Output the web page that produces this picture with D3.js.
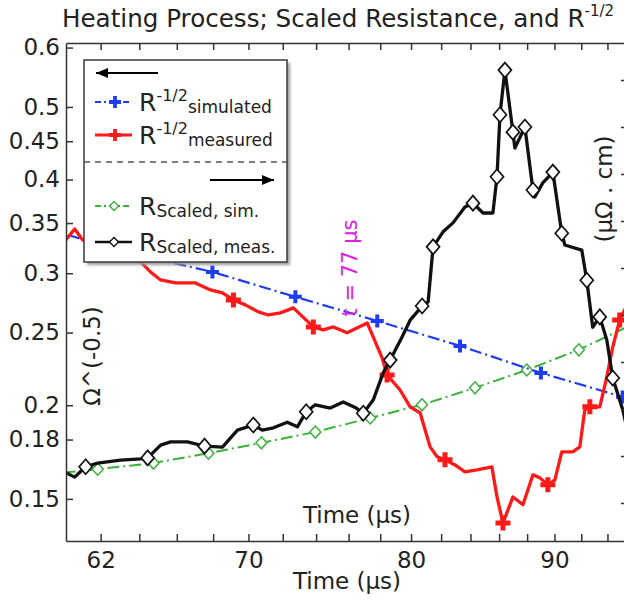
<!DOCTYPE html>
<html><head><meta charset="utf-8">
<script src="https://cdn.jsdelivr.net/npm/d3@7"></script>
<style>body{margin:0;background:#fff}svg{display:block}</style>
</head><body><svg id="c" width="624" height="603"></svg>
<script>
// ---------------- data ----------------
const titleMain = "Heating Process; Scaled Resistance, and R";
const titleSup = "-1/2";
const xTicks = [62,64,66,68,70,72,74,76,78,80,82,84,86,88,90,92,94];
const xTickLabels = [62,70,80,90];
const yLeftTicks = [0.15,0.18,0.2,0.25,0.3,0.35,0.4,0.45,0.5,0.6];
const yRightTicks = [100,110,120,130,140,150,160,170,180,190];

// R^-1/2 simulated (blue, left axis)
const simT = [59.32,63.49,67.96,72.75,77.81,83.28,89.0,95.18,101.5];
const simR = [0.3438,0.3193,0.3012,0.2790,0.2591,0.2400,0.2209,0.2052,0.190];

// R^-1/2 measured (red, left axis)
const measT = [59.90,60.25,60.69,61.09,62.00,63.02,64.07,64.59,65.13,65.93,67.02,67.85,68.52,69.14,69.82,70.57,71.15,71.86,72.63,73.83,74.43,75.05,75.91,77.17,77.55,78.12,78.44,79.28,79.94,80.60,81.26,81.73,82.26,82.94,83.62,84.45,85.49,85.85,86.27,86.98,87.70,88.42,88.93,89.51,90.03,90.54,91.36,91.89,92.27,92.65,93.41,93.95,94.41,94.95,95.73];
const measR = [0.3272,0.3323,0.3437,0.3323,0.3242,0.3203,0.3106,0.3012,0.2939,0.2912,0.2912,0.2850,0.2824,0.2764,0.2722,0.2664,0.2639,0.2656,0.2697,0.2544,0.2521,0.2544,0.2498,0.2575,0.2467,0.2313,0.2195,0.2096,0.1990,0.1953,0.1760,0.1707,0.1691,0.1665,0.1630,0.1640,0.1655,0.1509,0.1393,0.1509,0.1473,0.1615,0.1600,0.1566,0.1590,0.1733,0.1733,0.1760,0.1972,0.1990,0.1990,0.2182,0.2392,0.2599,0.2764];
const measMarks = [13,19,26,32,38,43,49,53];

// R scaled, simulated (green, right axis, µΩ·cm)
const scSimT = [59.07,61.85,64.75,67.74,70.75,73.95,77.36,80.72,84.31,87.98,91.82,95.88];
const scSimV = [106.0,107.2,108.5,110.6,112.8,115.1,118.1,120.9,124.5,128.3,132.6,137.9];

// R scaled, measured (black, right axis, µΩ·cm)
const scMeasT = [60.00,60.69,61.24,61.85,63.02,64.07,64.44,65.13,65.66,66.58,67.52,68.52,69.37,70.28,70.80,71.45,72.27,72.87,73.40,73.95,74.86,75.67,76.48,76.92,77.55,78.19,78.64,79.41,79.94,80.73,81.13,81.46,82.13,82.80,83.62,84.17,84.87,85.56,85.85,86.06,86.41,86.98,87.12,87.84,88.42,88.56,89.14,89.88,90.54,90.77,92.04,92.42,92.87,93.41,93.95,94.41,95.19,95.73];
const scMeasV = [107.0,105.5,107.7,108.5,109.1,109.4,109.6,112.3,113.0,113.0,112.1,111.9,115.5,116.6,115.5,116.0,117.2,116.2,119.4,120.9,120.2,121.5,120.2,119.1,121.9,127.7,130.4,135.3,138.9,141.9,142.8,154.5,157.7,159.6,163.0,163.8,161.7,161.7,169.4,182.6,192.1,178.9,175.5,180.0,166.6,165.1,168.1,170.4,157.4,154.9,153.8,147.4,137.4,139.6,134.7,126.6,119.8,113.4];
const scMeasMarks = [2,6,10,13,18,23,26,29,31,35,38,39,40,41,43,44,47,48,51,53,55];

// ---------------- layout ----------------
const L = 66, R = 628, T = 43, B = 541;
const FONT = "DejaVu Sans, Verdana, sans-serif";
const svg = d3.select("#c").style("font-family", FONT);

const x = d3.scaleLog().domain([60.26, 95.6]).range([L, R]);
const yL = d3.scaleLog().domain([0.1318, 0.6085]).range([B, T]);
const yR = d3.scaleLinear().domain([91.915, 197.87]).range([B, T]);

svg.append("defs").append("clipPath").attr("id","clip")
  .append("rect").attr("x",L).attr("y",T).attr("width",R-L).attr("height",B-T);
const defs = svg.select("defs");
const f = defs.append("filter").attr("id","blur").attr("x","-10%").attr("y","-10%").attr("width","120%").attr("height","120%");
f.append("feGaussianBlur").attr("stdDeviation",1.5);

// title
const tt = svg.append("text").attr("x",62).attr("y",27).attr("font-size",24.6).attr("fill","#222");
tt.append("tspan").text(titleMain);
tt.append("tspan").attr("dy",-11).attr("font-size",15).text(titleSup);

// plot group
const g = svg.append("g").attr("clip-path","url(#clip)");

const lineL = d3.line().x((d)=>x(d[0])).y((d)=>yL(d[1]));
const lineR = d3.line().x((d)=>x(d[0])).y((d)=>yR(d[1]));

const simPts = simT.map((t,i)=>[t,simR[i]]);
const measPts = measT.map((t,i)=>[t,measR[i]]);
const scSimPts = scSimT.map((t,i)=>[t,scSimV[i]]);
const scMeasPts = scMeasT.map((t,i)=>[t,scMeasV[i]]);

const BLUE="#1e3cf0", RED="#ff1a1a", GREEN="#3cb03c", BLACK="#111";
const dashdot = "12,4,2,4";

function plus(sel, cx, cy, s, w, col){
  sel.append("path").attr("d",`M${cx-s},${cy}H${cx+s}M${cx},${cy-s}V${cy+s}`)
    .attr("stroke",col).attr("stroke-width",w).attr("fill","none");
}
function diamond(sel, cx, cy, w, h, col, sw){
  sel.append("path").attr("d",`M${cx},${cy-h}L${cx+w},${cy}L${cx},${cy+h}L${cx-w},${cy}Z`)
    .attr("stroke",col).attr("stroke-width",sw).attr("fill","#fff");
}

// green simulated scaled
g.append("path").attr("d",lineR(scSimPts)).attr("fill","none").attr("stroke",GREEN)
  .attr("stroke-width",2).attr("stroke-dasharray",dashdot);
scSimPts.forEach(p=>diamond(g, x(p[0]), yR(p[1]), 5.5, 6, GREEN, 1.5));

// blue simulated
g.append("path").attr("d",lineL(simPts)).attr("fill","none").attr("stroke",BLUE)
  .attr("stroke-width",2.2).attr("stroke-dasharray",dashdot);
simPts.forEach(p=>plus(g, x(p[0]), yL(p[1]), 6.5, 4, BLUE));

// red measured
g.append("path").attr("d",lineL(measPts)).attr("fill","none").attr("stroke",RED)
  .attr("stroke-width",3.3).attr("stroke-linejoin","round");
measMarks.forEach(i=>plus(g, x(measPts[i][0]), yL(measPts[i][1]), 7.5, 5, RED));

// black measured scaled
g.append("path").attr("d",lineR(scMeasPts)).attr("fill","none").attr("stroke",BLACK)
  .attr("stroke-width",3.3).attr("stroke-linejoin","round");
scMeasMarks.forEach(i=>diamond(g, x(scMeasPts[i][0]), yR(scMeasPts[i][1]), 6.5, 7.5, BLACK, 1.7));

// magenta annotation
svg.append("text").attr("transform",`translate(357,268) rotate(-90)`).attr("text-anchor","middle")
  .attr("font-size",21).attr("fill","#e020e0").text("t = 77 µs");

// inner labels from overlaid figure
svg.append("text").attr("x",357).attr("y",523).attr("text-anchor","middle").attr("font-size",23)
  .attr("fill","#222").text("Time (µs)");
svg.append("text").attr("transform",`translate(100,356) rotate(-90)`).attr("text-anchor","middle")
  .attr("font-size",23).attr("fill","#222").text("Ω^(-0.5)");
svg.append("text").attr("transform",`translate(612,189) rotate(-90)`).attr("text-anchor","middle")
  .attr("font-size",23).attr("fill","#222").text("(µΩ . cm)");

// axes
function styleAxis(a){
  a.selectAll("path,line").attr("stroke","#333").attr("stroke-width",1.5);
  a.selectAll("text").attr("fill","#222").attr("font-family",FONT);
}
const ax = svg.append("g").attr("transform",`translate(0,${B})`)
  .call(d3.axisBottom(x).tickValues(xTicks).tickSizeInner(-7).tickSizeOuter(0).tickPadding(11)
    .tickFormat(d=>xTickLabels.includes(d)?String(d):""));
ax.attr("font-size",23); styleAxis(ax);
const axT = svg.append("g").attr("transform",`translate(0,${T})`)
  .call(d3.axisTop(x).tickValues(xTicks).tickSizeInner(-7).tickSizeOuter(0).tickFormat(""));
styleAxis(axT);
const ay = svg.append("g").attr("transform",`translate(${L},0)`)
  .call(d3.axisLeft(yL).tickValues(yLeftTicks).tickSizeInner(-7).tickSizeOuter(0).tickPadding(6)
    .tickFormat(d=>String(d)));
ay.attr("font-size",23); styleAxis(ay);
const ayR = svg.append("g").attr("transform",`translate(${R},0)`)
  .call(d3.axisRight(yR).tickValues(yRightTicks).tickSizeInner(-7).tickSizeOuter(0).tickFormat(""));
styleAxis(ayR);

svg.append("text").attr("x",347).attr("y",589).attr("text-anchor","middle").attr("font-size",23)
  .attr("fill","#222").text("Time (µs)");

// legend
const lg = svg.append("g");
const LX=84, LY=60, LW=203, LH=202;
lg.append("rect").attr("x",LX+3).attr("y",LY+3).attr("width",LW).attr("height",LH).attr("fill","#999").attr("filter","url(#blur)");
lg.append("rect").attr("x",LX).attr("y",LY).attr("width",LW).attr("height",LH).attr("fill","#fff").attr("stroke","#444").attr("stroke-width",1.6);
function arrow(x1,x2,y,dir){
  lg.append("line").attr("x1",x1).attr("x2",x2).attr("y1",y).attr("y2",y).attr("stroke","#000").attr("stroke-width",2);
  const tip = dir<0?x1:x2;
  lg.append("path").attr("d",`M${tip},${y}L${tip-dir*12},${y-5}L${tip-dir*12},${y+5}Z`).attr("fill","#000");
}
arrow(96,158,73,-1);
arrow(210,274,180,1);
lg.append("line").attr("x1",LX).attr("x2",LX+LW).attr("y1",162).attr("y2",162)
  .attr("stroke","#555").attr("stroke-width",1.5).attr("stroke-dasharray","6,5");

const legendRows = [
  {y:102, col:BLUE, dash:dashdot, mark:"plus", sup:"-1/2", sub:"simulated", w:2},
  {y:135, col:RED, dash:null, mark:"plus", sup:"-1/2", sub:"measured", w:3},
  {y:206, col:GREEN, dash:dashdot, mark:"diamond", sup:null, sub:"Scaled, sim.", w:1.8},
  {y:242, col:BLACK, dash:null, mark:"diamond", sup:null, sub:"Scaled, meas.", w:2.5}
];
legendRows.forEach(r=>{
  const ln = lg.append("line").attr("x1",95).attr("x2",132).attr("y1",r.y).attr("y2",r.y)
    .attr("stroke",r.col).attr("stroke-width",r.w);
  if (r.dash) ln.attr("stroke-dasharray","6,3,2,3");
  if (r.mark==="plus") plus(lg,115,r.y,6,3.8,r.col);
  else diamond(lg,114,r.y,4.5,4.5,r.col,1.4);
  const t = lg.append("text").attr("x",139).attr("y",r.y+9).attr("font-size",25).attr("fill","#222");
  t.append("tspan").text("R");
  if (r.sup){
    t.append("tspan").attr("dy",-10).attr("font-size",16).text(r.sup);
    t.append("tspan").attr("dy",12).attr("font-size",17).text(r.sub);
  } else {
    t.append("tspan").attr("dy",2).attr("font-size",17).text(r.sub);
  }
});
</script>
</body></html>
